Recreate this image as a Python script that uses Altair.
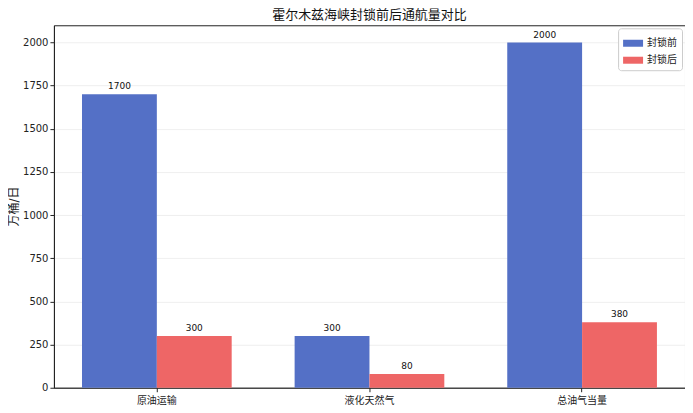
import altair as alt
import pandas as pd

categories = ["原油运输", "液化天然气", "总油气当量"]
series = ["封锁前", "封锁后"]
before = [1700, 300, 2000]
after = [300, 80, 380]
colors = ["#5470c6", "#ee6666"]
yticks = [0, 250, 500, 750, 1000, 1250, 1500, 1750, 2000]

rows = []
for c, b, a in zip(categories, before, after):
    rows.append({"类别": c, "系列": series[0], "值": b})
    rows.append({"类别": c, "系列": series[1], "值": a})
df = pd.DataFrame(rows)

FONT = "DejaVu Sans, Noto Sans CJK SC, sans-serif"

x = alt.X("类别:N", sort=categories, title=None,
          scale=alt.Scale(paddingInner=0.296, paddingOuter=0.132),
          axis=alt.Axis(labelAngle=0, labelFontSize=10, labelColor="#222",
                        tickColor="#222", domainColor="#222", tickSize=4,
                        labelPadding=4, grid=False))
xo = alt.XOffset("系列:N", sort=series, scale=alt.Scale(paddingInner=0, paddingOuter=0))
y = alt.Y("值:Q", title="万桶/日",
          scale=alt.Scale(domain=[0, 2100], nice=False, zero=True),
          axis=alt.Axis(values=yticks, format="d", labelFontSize=10, labelColor="#222",
                        tickColor="#222", domainColor="#222", tickSize=4,
                        titleFontSize=12, titleFontWeight="normal", titleColor="#222",
                        titleX=-33, titleY=181, titleAlign="center",
                        gridColor="#ebebeb", gridWidth=0.8))

bars = alt.Chart(df).mark_bar(opacity=1).encode(
    x=x, xOffset=xo, y=y,
    color=alt.Color("系列:N", sort=series,
                    scale=alt.Scale(domain=series, range=colors),
                    legend=alt.Legend(title=None, orient="top-right", offset=3,
                                      symbolType="M-1,-0.35L1,-0.35L1,0.35L-1,0.35Z",
                                      symbolSize=400, symbolStrokeWidth=0,
                                      labelFontSize=10, labelColor="#222",
                                      padding=5, rowPadding=2,
                                      strokeColor="#cccccc", fillColor="white",
                                      cornerRadius=3)),
)

labels = alt.Chart(df).mark_text(baseline="bottom", dy=-3, fontSize=9, color="#111", font=FONT).encode(
    x=alt.X("类别:N", sort=categories),
    xOffset=xo,
    y="值:Q",
    text="值:Q",
)

chart = (bars + labels).properties(
    width=632, height=363,
    title=alt.Title("霍尔木兹海峡封锁前后通航量对比", fontSize=13, fontWeight="normal",
                    color="#111", offset=3, anchor="middle"),
    autosize=alt.AutoSizeParams(type="none"),
    padding={"left": 46, "top": 17, "right": 0, "bottom": 25},
).configure(font=FONT).configure_view(stroke="#222", strokeWidth=1)

chart.save("out.html", embed_options={"renderer": "svg", "actions": False})
